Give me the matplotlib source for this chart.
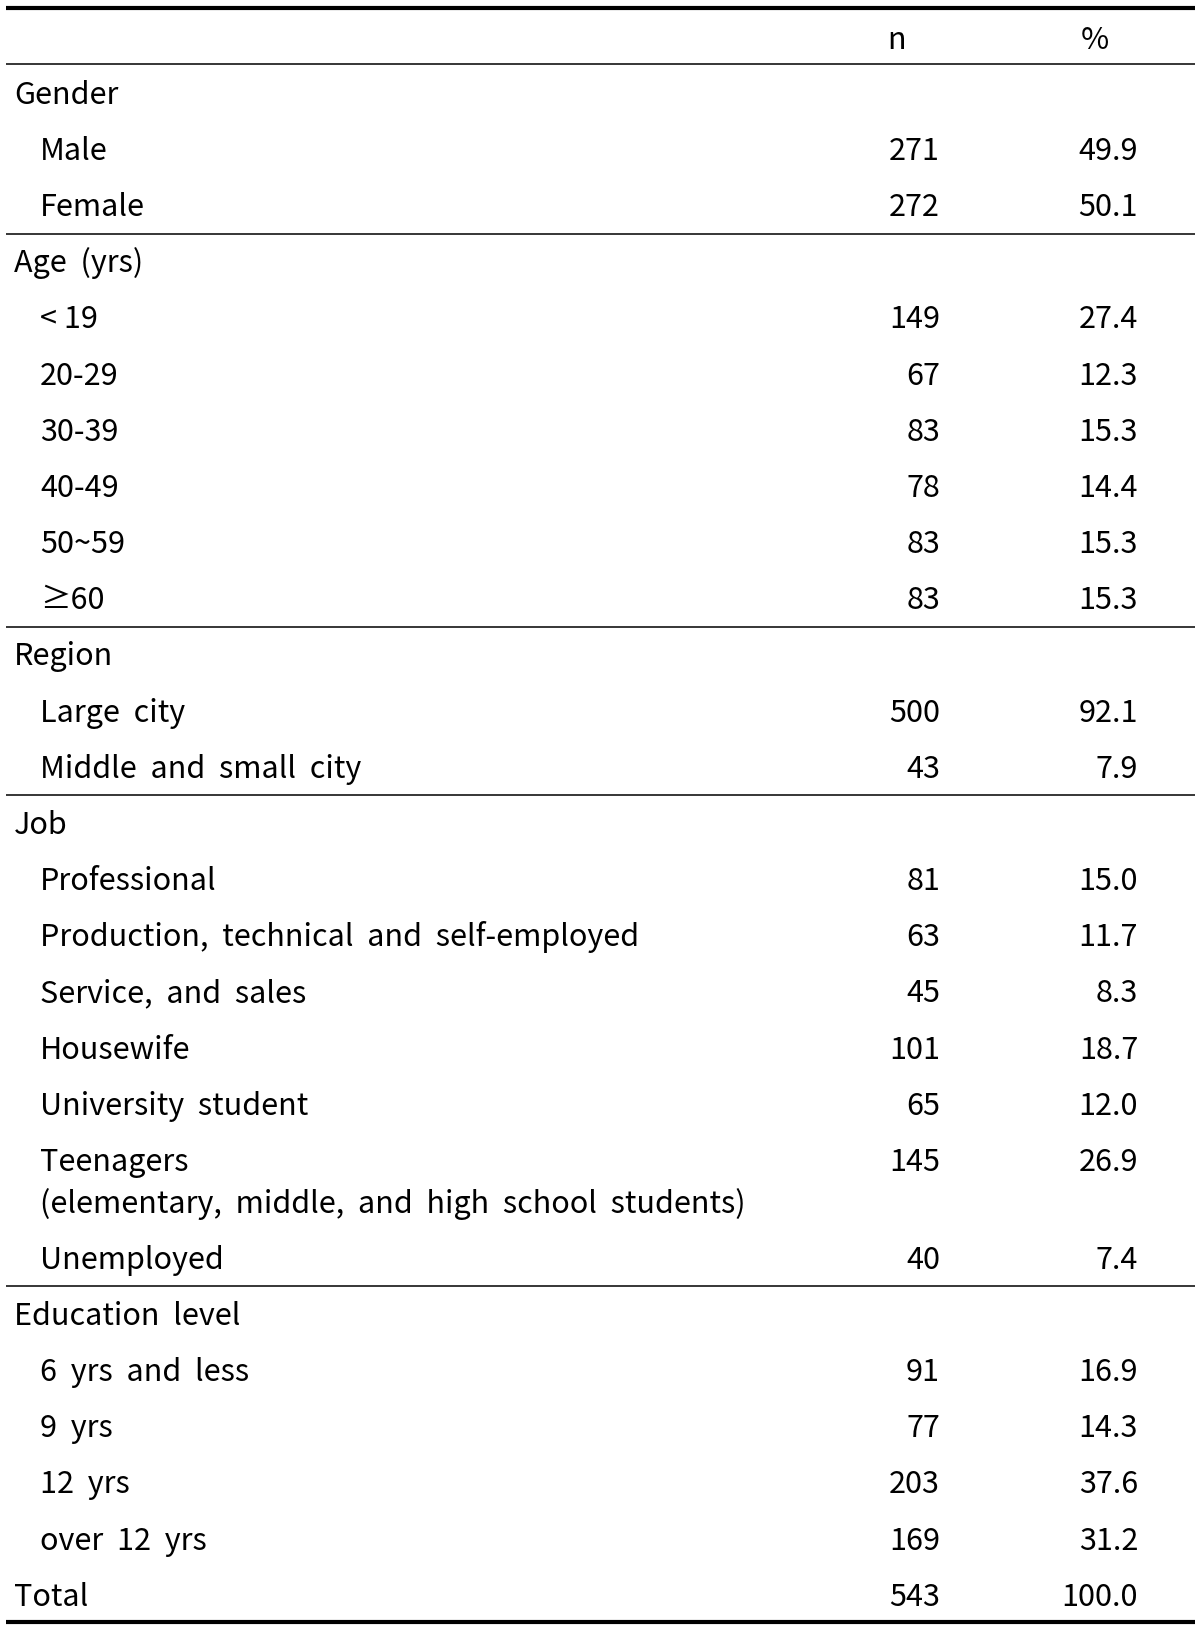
import matplotlib
matplotlib.use('Agg')
import matplotlib.pyplot as plt

plt.rcParams['font.family'] = ['Noto Sans CJK KR', 'DejaVu Sans']

# 표 데이터
groups = ['Gender', 'Age  (yrs)', 'Region', 'Job', 'Education  level']
items = [
    ['Male', 'Female'],
    ['< 19', '20-29', '30-39', '40-49', '50~59', '≥60'],
    ['Large  city', 'Middle  and  small  city'],
    ['Professional', 'Production,  technical  and  self-employed',
     'Service,  and  sales', 'Housewife', 'University  student',
     'Teenagers\n(elementary,  middle,  and  high  school  students)',
     'Unemployed'],
    ['6  yrs  and  less', '9  yrs', '12  yrs', 'over  12  yrs'],
]
n_vals = [
    [271, 272],
    [149, 67, 83, 78, 83, 83],
    [500, 43],
    [81, 63, 45, 101, 65, 145, 40],
    [91, 77, 203, 169],
]
pct_vals = [
    [49.9, 50.1],
    [27.4, 12.3, 15.3, 14.4, 15.3, 15.3],
    [92.1, 7.9],
    [15.0, 11.7, 8.3, 18.7, 12.0, 26.9, 7.4],
    [16.9, 14.3, 37.6, 31.2],
]
total_n = 543
total_pct = 100.0

W, H = 1200, 1634
fig = plt.figure(figsize=(W / 100, H / 100), dpi=100, facecolor='white')
ax = fig.add_axes([0, 0, 1, 1])
ax.set_xlim(0, W)
ax.set_ylim(H, 0)
ax.axis('off')

fs = 22
fw = 'medium'
pitch = 56.17
extra = 41.7
x0, x1 = 6, 1195
x_grp, x_sub = 14, 40
x_n, x_pct = 940, 1138
base = 11  # 중심 -> 기준선

def put(y, label, x, n=None, p=None):
    for k, line in enumerate(label.split('\n')):
        ax.text(x, y + base + k * extra, line, fontsize=fs, fontweight=fw,
                ha='left', va='baseline')
    if n is not None:
        ax.text(x_n, y + base, str(n), fontsize=fs, fontweight=fw,
                ha='right', va='baseline')
        ax.text(x_pct, y + base, f'{p:.1f}', fontsize=fs, fontweight=fw,
                ha='right', va='baseline')

# 선
ax.plot([x0, x1], [8, 8], color='black', lw=3.0, solid_capstyle='butt')
ax.plot([x0, x1], [63.5, 63.5], color='black', lw=1.1, solid_capstyle='butt')

# 헤더
ax.text(897, 37.5 + base, 'n', fontsize=fs, fontweight=fw, ha='center', va='baseline')
ax.text(1095, 37.5 + base, '%', fontsize=fs, fontweight=fw, ha='center', va='baseline')

y = 92.7
for gi, g in enumerate(groups):
    if gi > 0:
        ly = y - pitch / 2 + 0.5
        ax.plot([x0, x1], [ly, ly], color='black', lw=1.1, solid_capstyle='butt')
    put(y, g, x_grp)
    y += pitch
    for lab, nv, pv in zip(items[gi], n_vals[gi], pct_vals[gi]):
        put(y, lab, x_sub, nv, pv)
        y += pitch
        if '\n' in lab:
            y += extra

put(y, 'Total', x_grp, total_n, total_pct)
ax.plot([x0, x1], [1622, 1622], color='black', lw=3.0, solid_capstyle='butt')

fig.savefig('out.png', dpi=100, facecolor='white')
